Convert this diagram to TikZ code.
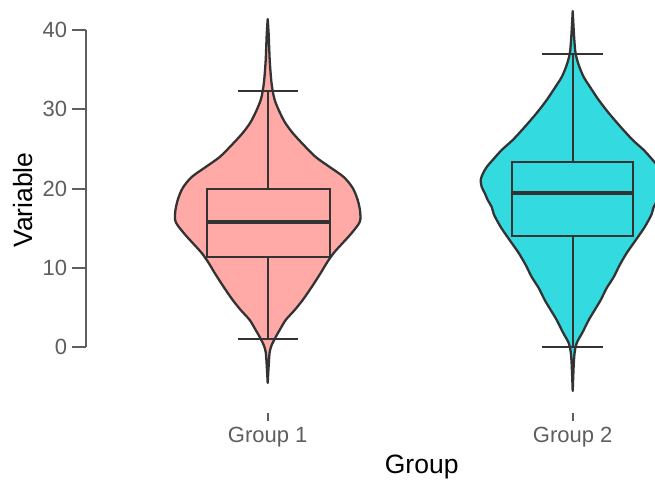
\documentclass[tikz,border=0pt]{standalone}
\usepackage{fontspec}
\setmainfont{Liberation Sans}
\definecolor{violA}{HTML}{FFAAA7}
\definecolor{violB}{HTML}{33DADF}
\definecolor{ink}{HTML}{333333}
\definecolor{axisgray}{HTML}{5E5E5E}
\tikzset{
  violin/.style={draw=ink, line width=2.3pt, line join=round},
  boxline/.style={draw=ink, line width=2.2pt},
  medline/.style={draw=ink, line width=4pt},
  axisline/.style={draw=axisgray, line width=1.8pt},
  ticklabel/.style={text=axisgray, font=\fontsize{22}{25}\selectfont, inner sep=0pt},
  axistitle/.style={text=black, font=\fontsize{26.5}{30}\selectfont, inner sep=0pt}
}
\begin{document}
\begin{tikzpicture}[x=1pt, y=-1pt]

  \useasboundingbox (0,0) rectangle (655,484);
  \fill[white] (0,0) rectangle (655,484);
  \clip (0,0) rectangle (655,484);

  % y axis
  \draw[axisline] (86,30) -- (86,347.3);
  \foreach \v/\yy in {0/347.3, 10/268, 20/188.7, 30/109.3, 40/30}
    \draw[axisline] (72,\yy) -- (86,\yy) node (ytick\v) [ticklabel, anchor=east, xshift=-18pt] {\v};
  \node (ytitle) [axistitle, rotate=90] at (23,200) {Variable};

  % group 1
  \begin{scope}[shift={(267.7,0)}]
    \filldraw[violin, fill=violA] plot[smooth, tension=0.5] coordinates {
      (0,19) (-1,35) (-2,60) (-3.5,80) (-5,91) (-7,100) (-11,110) (-17,122)
      (-25,133) (-36,145) (-48,157) (-62,167) (-76,177) (-85,188) (-90,200)
      (-92.5,212) (-92,222) (-84,233) (-75,243) (-66,253) (-59,263) (-53,273)
      (-44,287) (-35,300) (-27,310) (-18,320) (-12,330) (-8,337) (-4,345)
      (-2,352) (-1,365) (0,383)}
      -- plot[smooth, tension=0.5] coordinates {
      (0,383) (1,365) (2,352) (4,345) (8,337) (12,330) (18,320) (27,310)
      (35,300) (44,287) (53,273) (59,263) (66,253) (75,243) (84,233) (92,222)
      (92.5,212) (90,200) (85,188) (76,177) (62,167) (48,157) (36,145)
      (25,133) (17,122) (11,110) (7,100) (5,91) (3.5,80) (2,60) (1,35) (0,19)}
      -- cycle;
    \draw[boxline] (0,90.7) -- (0,189.3);
    \draw[boxline] (0,257.3) -- (0,339.3);
    \draw[boxline] (-29.7,90.7) -- (30,90.7);
    \draw[boxline] (-29.7,339.3) -- (30,339.3);
    \filldraw[boxline, fill=violA] (-61,189.3) rectangle (62.3,257.3);
    \draw[medline] (-61,221.7) -- (62.3,221.7);
  \end{scope}

  % group 2
  \begin{scope}[shift={(572.7,0)}]
    \filldraw[violin, fill=violB] plot[smooth, tension=0.5] coordinates {
      (0,11) (-1,30) (-2,45) (-3,54) (-6,65) (-11,77) (-18,88) (-26,100)
      (-36,113) (-48,127) (-60,140) (-71,150) (-80,160) (-86,167) (-90,174)
      (-92,180) (-91,187) (-88,193) (-85,200) (-81,207) (-79,214) (-76,220)
      (-72,227) (-68,233) (-61,243) (-54,253) (-47,265) (-41,277) (-34,288)
      (-28,300) (-22,310) (-16,320) (-10,332) (-4,343) (-2,352) (-1,365) (0,391)}
      -- plot[smooth, tension=0.5] coordinates {
      (0,391) (1,365) (2,352) (4,343) (10,332) (16,320) (22,310) (28,300)
      (34,288) (41,277) (47,265) (54,253) (61,243) (68,233) (72,227) (76,220)
      (79,214) (81,207) (85,200) (88,193) (91,187) (92,180) (90,174) (86,167)
      (80,160) (71,150) (60,140) (48,127) (36,113) (26,100) (18,88) (11,77)
      (6,65) (3,54) (2,45) (1,30) (0,11)}
      -- cycle;
    \draw[boxline] (0,54.3) -- (0,162.3);
    \draw[boxline] (0,236) -- (0,346.7);
    \draw[boxline] (-30.4,54.3) -- (30,54.3);
    \draw[boxline] (-30.4,346.7) -- (30,346.7);
    \filldraw[boxline, fill=violB] (-61,162.3) rectangle (60.6,236);
    \draw[medline] (-61,193.3) -- (60.6,193.3);
  \end{scope}

  % x axis
  \draw[axisline] (267.7,413) -- (267.7,421) node (grpA) [ticklabel, anchor=north, yshift=-5pt] {Group 1};
  \draw[axisline] (572.7,413) -- (572.7,421) node (grpB) [ticklabel, anchor=north, yshift=-5pt] {Group 2};
  \node (xtitle) [axistitle] at (421.7,467) {Group};

\end{tikzpicture}
\end{document}
